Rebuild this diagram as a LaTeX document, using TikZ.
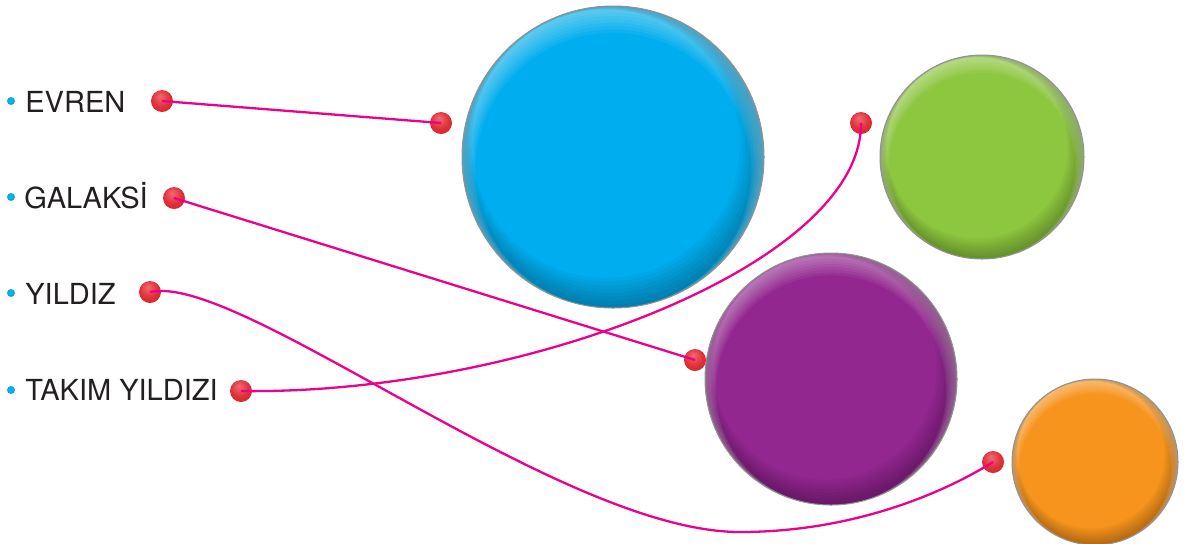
\documentclass[tikz,border=0pt]{standalone}
\usepackage{fontspec}
\setmainfont{TeX Gyre Heros}
\definecolor{cblue}{HTML}{00AEEF}
\definecolor{cgreen}{HTML}{8DC63F}
\definecolor{cpurple}{HTML}{92278F}
\definecolor{corange}{HTML}{F7941D}
\definecolor{cmag}{HTML}{EC008C}
\definecolor{ctext}{HTML}{231F20}
\definecolor{dotlight}{HTML}{F26B70}
\definecolor{dotmid}{HTML}{E0313A}
\definecolor{dotdark}{HTML}{C01A24}
\pgfdeclareradialshading{reddot}{\pgfpoint{-5bp}{12bp}}{color(0bp)=(dotlight); color(20bp)=(dotmid); color(45bp)=(dotdark); color(50bp)=(dotdark)}
\newcommand\bigball[4]{%
  \fill[#4] (#1,#2) circle[radius=#3];
  \foreach \i in {1,...,8} {
    \fill[white, fill opacity=0.06, even odd rule]
      (#1,#2) circle[radius=#3] (#1,{#2+#3*0.011*\i}) circle[radius={#3*(1-0.011*\i)}];
    \fill[black, fill opacity=0.035, even odd rule]
      (#1,#2) circle[radius=#3] ({#1-#3*0.006*\i},{#2-#3*0.011*\i}) circle[radius={#3*(1-0.014*\i)}];
  }
  \draw[gray!85, line width=0.5pt] (#1,#2) circle[radius=#3];
}
\tikzset{
  lbl/.style={anchor=base west, inner sep=0pt, text=ctext, font=\fontsize{14.5pt}{17pt}\selectfont},
  bullet/.style={circle, fill=cblue, inner sep=0pt, minimum size=4pt},
  rdot/.style={circle, shading=reddot, inner sep=0pt, minimum size=11pt},
  conn/.style={draw=cmag, line width=1.15pt}
}
\begin{document}
\begin{tikzpicture}[x=0.5pt,y=-0.5pt]
\useasboundingbox (0,0) rectangle (1198,543);
% big circles
\bigball{613}{157}{151}{cblue}
\bigball{982}{157}{102}{cgreen}
\bigball{831}{379}{126}{cpurple}
\bigball{1095}{462}{83}{corange}
% bullets and labels
\node[bullet] (bE) at (11,101) {};
\node[bullet] (bG) at (11,197) {};
\node[bullet] (bY) at (11,293) {};
\node[bullet] (bT) at (11,390) {};
\node[lbl] (tE) at (25,112) {EVREN};
\node[lbl] (tG) at (24,208) {GALAKSİ};
\node[lbl] (tY) at (25,304) {YILDIZ};
\node[lbl] (tT) at (25,400) {TAKIM YILDIZI};
% red dots
\node[rdot] (dE) at (162,101) {};
\node[rdot] (dG) at (174,198) {};
\node[rdot] (dY) at (150,292) {};
\node[rdot] (dT) at (241,391) {};
\node[rdot] (dB) at (441,123) {};
\node[rdot] (dGr) at (861,123) {};
\node[rdot] (dP) at (695,360) {};
\node[rdot] (dO) at (993,462) {};
\coordinate (low) at (740,532);
% connectors
\draw[conn] (dE.center) -- (dB.center);
\draw[conn] (dG.center) -- (dP.center);
\draw[conn] (dY.center) .. controls (240,272) and (560,532) .. (low)
  .. controls (850,532) and (940,495) .. (dO.center);
\draw[conn] (dT.center) .. controls (520,395) and (862,265) .. (dGr.center);
\end{tikzpicture}
\end{document}
